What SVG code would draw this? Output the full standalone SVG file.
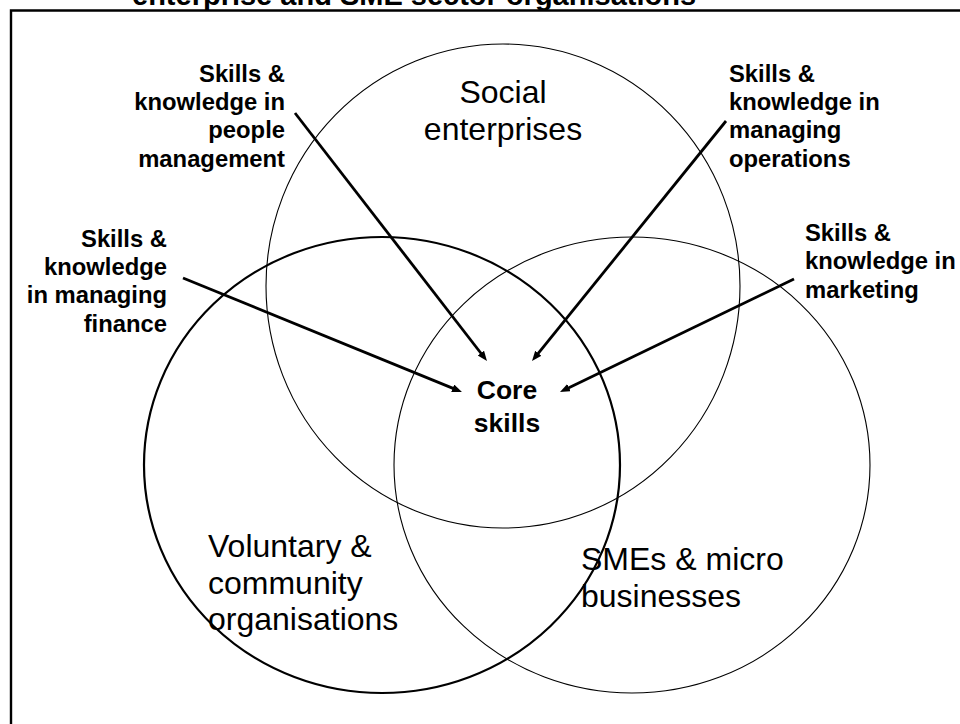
<svg xmlns="http://www.w3.org/2000/svg" width="960" height="724" viewBox="0 0 960 724">
  <style>
    .ring { fill: none; stroke: #000; }
    .thin { stroke-width: 1.1; }
    .thick { stroke-width: 2.2; }
    .big { font-family: "Liberation Sans", Arial, sans-serif; font-size: 32px; fill: #000; }
    .lbl { font-family: "Liberation Sans", Arial, sans-serif; font-size: 23.8px; font-weight: bold; fill: #000; }
    .core { font-family: "Liberation Sans", Arial, sans-serif; font-size: 26.5px; font-weight: bold; fill: #000; }
    .title { font-family: "Liberation Sans", Arial, sans-serif; font-size: 29px; font-weight: bold; fill: #000; }
    .arrow { stroke: #000; stroke-width: 2.8; fill: none; marker-end: url(#head); }
  </style>
  <defs>
    <marker id="head" markerUnits="userSpaceOnUse" markerWidth="11" markerHeight="9" refX="3" refY="4" orient="auto" viewBox="0 0 11 9">
      <path d="M0,0 L10,4 L0,8 z" fill="#000"/>
    </marker>
  </defs>
  <rect width="960" height="724" fill="#fff"/>

  <!-- heading, partly above the page edge -->
  <text class="title" x="132" y="5">enterprise and SME sector organisations</text>

  <!-- outer frame -->
  <path d="M11,740 V10.5 H970" fill="none" stroke="#000" stroke-width="2.4"/>

  <g id="social-enterprises">
    <ellipse class="ring thin" cx="503" cy="286" rx="237" ry="242"/>
    <text class="big" text-anchor="middle" x="503" y="103">Social</text>
    <text class="big" text-anchor="middle" x="503" y="140">enterprises</text>
  </g>

  <g id="voluntary-community">
    <ellipse class="ring thick" cx="382" cy="465" rx="238" ry="228"/>
    <text class="big" x="208" y="557">Voluntary &amp;</text>
    <text class="big" x="208" y="594">community</text>
    <text class="big" x="208" y="630">organisations</text>
  </g>

  <g id="smes-micro">
    <ellipse class="ring thin" cx="632" cy="465" rx="238" ry="228"/>
    <text class="big" x="581" y="570">SMEs &amp; micro</text>
    <text class="big" x="581" y="607">businesses</text>
  </g>

  <g id="core-skills">
    <text class="core" text-anchor="middle" x="507" y="399">Core</text>
    <text class="core" text-anchor="middle" x="507" y="432">skills</text>
  </g>

  <g id="people-management">
    <text class="lbl" text-anchor="end" x="285" y="81.7">Skills &amp;</text>
    <text class="lbl" text-anchor="end" x="285" y="110">knowledge in</text>
    <text class="lbl" text-anchor="end" x="285" y="138.3">people</text>
    <text class="lbl" text-anchor="end" x="285" y="166.7">management</text>
  </g>

  <g id="managing-operations">
    <text class="lbl" x="729" y="81.7">Skills &amp;</text>
    <text class="lbl" x="729" y="110">knowledge in</text>
    <text class="lbl" x="729" y="138.3">managing</text>
    <text class="lbl" x="729" y="166.7">operations</text>
  </g>

  <g id="managing-finance">
    <text class="lbl" text-anchor="end" x="167" y="246.7">Skills &amp;</text>
    <text class="lbl" text-anchor="end" x="167" y="275">knowledge</text>
    <text class="lbl" text-anchor="end" x="167" y="303.3">in managing</text>
    <text class="lbl" text-anchor="end" x="167" y="331.7">finance</text>
  </g>

  <g id="marketing">
    <text class="lbl" x="805" y="241">Skills &amp;</text>
    <text class="lbl" x="805" y="269.3">knowledge in</text>
    <text class="lbl" x="805" y="297.6">marketing</text>
  </g>

  <g id="connectors">
    <line class="arrow" x1="295" y1="113" x2="482.7" y2="355.5"/>
    <line class="arrow" x1="726" y1="121" x2="536.4" y2="355.6"/>
    <line class="arrow" x1="183" y1="278" x2="455.5" y2="389.4"/>
    <line class="arrow" x1="794" y1="279" x2="566.3" y2="389"/>
  </g>
</svg>
